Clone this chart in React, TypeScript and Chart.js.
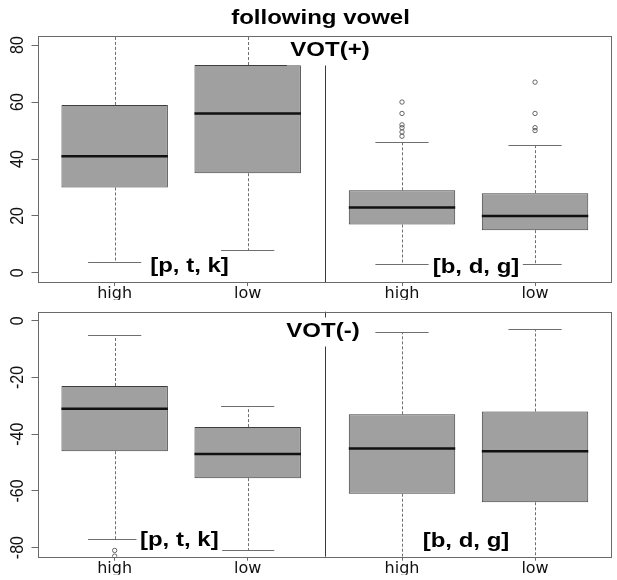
import React, { useEffect, useRef } from "react";
import { Chart, registerables } from "chart.js";

Chart.register(...registerables);

// ---------- data ----------
const mainTitle = "following vowel";
const categories = ["high", "low", "high", "low"];
const positions = [1, 2, 3.16, 4.16];
const groupNames = ["[p, t, k]", "[b, d, g]"];
const xRange = [0.42, 4.74];
const groupDivider = 2.58;

const posTitle = "VOT(+)";
const posLowerWhisker = [4, 8, 3, 3];
const posQ1 = [30, 35, 17, 15];
const posMedian = [41, 56, 23, 20];
const posQ3 = [59, 73, 29, 28];
const posUpperWhisker = [96, 94, 46, 45];
const posOutliers = [[], [], [48, 49.5, 51, 52, 56, 60], [50, 51, 56, 67]];
const posTicks = [0, 20, 40, 60, 80];
const posRange = [-3.2, 83.2];

const negTitle = "VOT(-)";
const negLowerWhisker = [-77, -81, -90, -92];
const negQ1 = [-46, -55.5, -61, -64];
const negMedian = [-31, -47, -45, -46];
const negQ3 = [-23, -37.5, -33, -32];
const negUpperWhisker = [-5, -30, -4, -3];
const negOutliers = [[-81, -83], [], [], []];
const negTicks = [0, -20, -40, -60, -80];
const negRange = [-83.2, 3.2];

// ---------- styling ----------
const BOX_FILL = "#a0a0a0";
const BOX_BORDER = "#3e3e3e";
const WHISKER = "#6e6e6e";
const FRAME = "#6a6a6a";
const STRETCH = 1.2;
const LABEL_FONT = 'bold 20px "Liberation Sans", Arial, sans-serif';

type Label = { text: string; cx: number; cy: number; bg: boolean };

type PanelSpec = {
  top: number;
  height: number;
  padTop: number;
  padBottom: number;
  lower: number[];
  q1: number[];
  median: number[];
  q3: number[];
  upper: number[];
  outliers: number[][];
  ticks: number[];
  range: number[];
  labels: Label[];
  title?: { text: string; cx: number; baseline: number };
};

function stretchedText(
  ctx: CanvasRenderingContext2D,
  text: string,
  cx: number,
  cy: number,
  font: string,
  bg: boolean
) {
  ctx.save();
  ctx.font = font;
  const w = ctx.measureText(text).width * STRETCH;
  if (bg) {
    ctx.fillStyle = "#ffffff";
    ctx.fillRect(cx - w / 2 - 3.5, cy - 14.5, w + 7, 29);
  }
  ctx.translate(cx, cy + 5.2);
  ctx.scale(STRETCH, 1);
  ctx.fillStyle = "#000";
  ctx.textAlign = "center";
  ctx.textBaseline = "alphabetic";
  ctx.fillText(text, 0, 0);
  ctx.restore();
}

function makePlugin(p: PanelSpec) {
  return {
    id: "boxplotExtras",
    afterDatasetsDraw(chart: any) {
      const { ctx, chartArea: a } = chart;
      const x = chart.scales.x;
      const y = chart.scales.y;
      const meta = chart.getDatasetMeta(0);
      const line = (x1: number, y1: number, x2: number, y2: number) => {
        ctx.beginPath();
        ctx.moveTo(x1, y1);
        ctx.lineTo(x2, y2);
        ctx.stroke();
      };
      ctx.save();
      ctx.beginPath();
      ctx.rect(a.left, a.top, a.right - a.left, a.bottom - a.top);
      ctx.clip();
      positions.forEach((pos, i) => {
        const bar = meta.data[i];
        const cx = Math.round(x.getPixelForValue(pos)) + 0.5;
        const half = bar.width / 2;
        const capL = x.getPixelForValue(pos) - half / 2;
        const capR = x.getPixelForValue(pos) + half / 2;
        const yHi = Math.round(y.getPixelForValue(p.upper[i])) + 0.5;
        const yLo = Math.round(y.getPixelForValue(p.lower[i])) + 0.5;
        // whiskers
        ctx.strokeStyle = WHISKER;
        ctx.lineWidth = 1;
        ctx.setLineDash([3, 2]);
        line(cx, y.getPixelForValue(p.q3[i]), cx, yHi);
        line(cx, y.getPixelForValue(p.q1[i]), cx, yLo);
        ctx.setLineDash([]);
        // staples
        line(capL, yHi, capR, yHi);
        line(capL, yLo, capR, yLo);
        // median
        ctx.strokeStyle = "#111";
        ctx.lineWidth = 2.5;
        const ym = y.getPixelForValue(p.median[i]);
        line(bar.x - half, ym, bar.x + half, ym);
      });
      ctx.restore();
    },
    afterDraw(chart: any) {
      const { ctx, chartArea: a } = chart;
      const x = chart.scales.x;
      const y = chart.scales.y;
      // group divider
      ctx.save();
      const sx = Math.round(x.getPixelForValue(groupDivider)) + 0.5;
      ctx.strokeStyle = "#3a3a3a";
      ctx.lineWidth = 1;
      ctx.beginPath();
      ctx.moveTo(sx, a.top);
      ctx.lineTo(sx, a.bottom);
      ctx.stroke();
      ctx.restore();

      // panel / group labels
      p.labels.forEach((lb) => stretchedText(ctx, lb.text, lb.cx, lb.cy, LABEL_FONT, lb.bg));

      // frame
      ctx.save();
      ctx.strokeStyle = FRAME;
      ctx.lineWidth = 1;
      const l = Math.round(a.left) + 0.5;
      const t = Math.round(a.top) + 0.5;
      const r = Math.round(a.right) - 0.5;
      const b = Math.round(a.bottom) + 0.5;
      ctx.strokeRect(l, t, r - l, b - t);
      ctx.restore();

      // y tick labels (rotated, R style)
      y.ticks.forEach((tk: any) => {
        const py = y.getPixelForValue(tk.value);
        ctx.save();
        ctx.translate(18, py);
        ctx.rotate(-Math.PI / 2);
        ctx.scale(1, STRETCH);
        ctx.font = '16px "Liberation Sans", Arial, sans-serif';
        ctx.fillStyle = "#111";
        ctx.textAlign = "center";
        ctx.textBaseline = "middle";
        ctx.fillText(String(tk.value), 0, 0);
        ctx.restore();
      });

      if (p.title) {
        ctx.save();
        ctx.font = LABEL_FONT;
        ctx.translate(p.title.cx, p.title.baseline);
        ctx.scale(STRETCH, 1);
        ctx.fillStyle = "#000";
        ctx.textAlign = "center";
        ctx.fillText(p.title.text, 0, 0);
        ctx.restore();
      }
    },
  };
}

function BoxPanel({ spec }: { spec: PanelSpec }) {
  const ref = useRef<HTMLCanvasElement>(null);
  useEffect(() => {
    const canvas = ref.current;
    if (!canvas) return;
    const boxData = positions.map((pos, i) => ({ x: pos, y: [spec.q1[i], spec.q3[i]] }));
    const outlierData: { x: number; y: number }[] = [];
    positions.forEach((pos, i) => spec.outliers[i].forEach((v) => outlierData.push({ x: pos, y: v })));
    const chart = new Chart(canvas, {
      type: "bar",
      data: {
        datasets: [
          {
            type: "bar",
            data: boxData as any,
            backgroundColor: BOX_FILL,
            borderColor: BOX_BORDER,
            borderWidth: 1,
            borderSkipped: false,
            barPercentage: 0.8,
            categoryPercentage: 1,
          } as any,
          {
            type: "scatter",
            data: outlierData,
            pointStyle: "circle",
            pointRadius: 2.2,
            borderWidth: 0.8,
            borderColor: "#444",
            backgroundColor: "rgba(0,0,0,0)",
            showLine: false,
          } as any,
        ],
      },
      options: {
        responsive: false,
        animation: false,
        events: [],
        layout: { padding: { top: spec.padTop, bottom: spec.padBottom, left: 0, right: 1 } },
        plugins: { legend: { display: false }, tooltip: { enabled: false }, title: { display: false } },
        scales: {
          x: {
            type: "linear",
            min: xRange[0],
            max: xRange[1],
            offset: false,
            border: { display: false },
            grid: { display: true, offset: false, drawOnChartArea: false, drawTicks: true, tickLength: 4, color: FRAME },
            afterBuildTicks: (s: any) => {
              s.ticks = positions.map((v) => ({ value: v }));
            },
            afterFit: (s: any) => {
              s.height = 18;
            },
            ticks: {
              autoSkip: false,
              maxRotation: 0,
              padding: 0,
              color: "#111",
              font: { family: '"DejaVu Sans", sans-serif', size: 16, lineHeight: 1 },
              callback: (_v: any, i: number) => categories[i],
            },
          },
          y: {
            type: "linear",
            min: spec.range[0],
            max: spec.range[1],
            border: { display: false },
            grid: { display: true, drawOnChartArea: false, drawTicks: true, tickLength: 6, color: FRAME },
            afterBuildTicks: (s: any) => {
              s.ticks = spec.ticks.map((v) => ({ value: v }));
            },
            afterFit: (s: any) => {
              s.width = 37.5;
            },
            ticks: { display: false },
          },
        },
      } as any,
      plugins: [makePlugin(spec)],
    });
    return () => chart.destroy();
  }, [spec]);
  return (
    <canvas
      ref={ref}
      width={617}
      height={spec.height}
      style={{ position: "absolute", left: 0, top: spec.top, display: "block" }}
    />
  );
}

const topSpec: PanelSpec = {
  top: 0,
  height: 305,
  padTop: 36,
  padBottom: 5,
  lower: posLowerWhisker,
  q1: posQ1,
  median: posMedian,
  q3: posQ3,
  upper: posUpperWhisker,
  outliers: posOutliers,
  ticks: posTicks,
  range: posRange,
  labels: [
    { text: posTitle, cx: 330, cy: 51, bg: true },
    { text: groupNames[0], cx: 189.5, cy: 266.7, bg: true },
    { text: groupNames[1], cx: 476, cy: 268, bg: true },
  ],
  title: { text: mainTitle, cx: 320.5, baseline: 24 },
};

const bottomSpec: PanelSpec = {
  top: 305,
  height: 275,
  padTop: 6.7,
  padBottom: 5.3,
  lower: negLowerWhisker,
  q1: negQ1,
  median: negMedian,
  q3: negQ3,
  upper: negUpperWhisker,
  outliers: negOutliers,
  ticks: negTicks,
  range: negRange,
  labels: [
    { text: negTitle, cx: 323, cy: 27, bg: true },
    { text: groupNames[0], cx: 179.3, cy: 236, bg: true },
    { text: groupNames[1], cx: 466, cy: 237, bg: true },
  ],
};

export default function App() {
  return (
    <div style={{ position: "absolute", left: 0, top: 0, width: 617, height: 580, background: "#fff" }}>
      <BoxPanel spec={topSpec} />
      <BoxPanel spec={bottomSpec} />
    </div>
  );
}
